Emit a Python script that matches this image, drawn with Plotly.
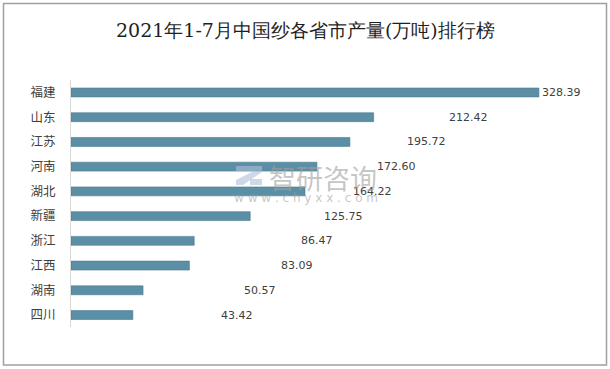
import plotly.graph_objects as go

categories = ["福建", "山东", "江苏", "河南", "湖北", "新疆", "浙江", "江西", "湖南", "四川"]
values = [328.39, 212.42, 195.72, 172.60, 164.22, 125.75, 86.47, 83.09, 50.57, 43.42]
label_texts = ["328.39", "212.42", "195.72", "172.60", "164.22", "125.75", "86.47", "83.09", "50.57", "43.42"]
# horizontal pixel offsets of the (manually placed) data labels from bar ends
label_offsets = [2, 74, 56, 59, 47, 73, 106, 91, 100, 87]

title = "2021年1-7月中国纱各省市产量(万吨)排行榜"

W, H = 610, 369
bar_color = "#5B8FA6"

fig = go.Figure()
fig.add_trace(go.Bar(
    y=categories, x=values, orientation="h",
    marker=dict(color=bar_color, line=dict(color="#4A7A90", width=0.6)),
    width=0.36, hoverinfo="skip",
))

annotations = []
for c, v, t, o in zip(categories, values, label_texts, label_offsets):
    annotations.append(dict(
        x=v, y=c, xref="x", yref="y", text=t, showarrow=False,
        xanchor="left", yanchor="middle", xshift=o, borderpad=0,
        font=dict(family="DejaVu Sans", size=11, color="#404040"),
    ))

# title
annotations.append(dict(
    x=305 / W, y=1 - 30 / H, xref="paper", yref="paper", text=title,
    showarrow=False, xanchor="center", yanchor="middle",
    font=dict(family="'DejaVu Serif', 'Liberation Serif', serif", size=19, color="#1F1F1F"),
))

# watermark
annotations.append(dict(
    x=267 / W, y=1 - 177 / H, xref="paper", yref="paper", text="智研咨询",
    showarrow=False, xanchor="left", yanchor="middle",
    font=dict(family="Noto Sans CJK SC", size=27, color="rgba(160,160,160,0.6)"),
))
annotations.append(dict(
    x=306 / W, y=1 - 198 / H, xref="paper", yref="paper", text="w w w . c h y x x . c o m",
    showarrow=False, xanchor="center", yanchor="middle",
    font=dict(family="DejaVu Sans", size=12, color="rgba(160,160,160,0.6)"),
))

shapes = [
    # outer border
    dict(type="rect", xref="paper", yref="paper",
         x0=3.5 / W, x1=606.5 / W, y0=1 - 365 / H, y1=1 - 3.5 / H,
         line=dict(color="#A0A0A0", width=1.5), fillcolor="rgba(0,0,0,0)", layer="above"),
    # watermark logo (approximation)
    dict(type="path", xref="paper", yref="paper",
         path=f"M {236/W} {1-166/H} L {262/W} {1-166/H} L {262/W} {1-172/H} L {243/W} {1-185/H} "
              f"L {236/W} {1-185/H} L {236/W} {1-180/H} L {254/W} {1-171/H} L {236/W} {1-171/H} Z",
         fillcolor="rgba(175,190,215,0.6)", line=dict(width=0), layer="above"),
    dict(type="rect", xref="paper", yref="paper",
         x0=250 / W, x1=262 / W, y0=1 - 185 / H, y1=1 - 179 / H,
         fillcolor="rgba(175,190,215,0.6)", line=dict(width=0), layer="above"),
]

fig.update_layout(
    width=W, height=H,
    margin=dict(l=0, r=0, t=0, b=0),
    paper_bgcolor="white", plot_bgcolor="white",
    showlegend=False,
    annotations=annotations,
    shapes=shapes,
    xaxis=dict(
        domain=[71 / W, 600 / W],
        range=[0, max(values) * 1.1305],
        showgrid=False, zeroline=False, showticklabels=False, showline=False,
        automargin=False, fixedrange=True,
    ),
    yaxis=dict(
        domain=[41.6 / H, 1 - 80.1 / H],
        autorange="reversed",
        showgrid=False, zeroline=False,
        showline=True, linecolor="#D9D9D9", linewidth=1,
        ticks="", ticklabelstandoff=12,
        tickfont=dict(family="Noto Sans CJK SC", size=12.5, color="#404040"),
        automargin=False, fixedrange=True,
    ),
)

fig.write_html(
    "out.html",
    config={"displayModeBar": False},
    post_script="document.body.style.margin='0';document.body.style.overflow='hidden';",
)
